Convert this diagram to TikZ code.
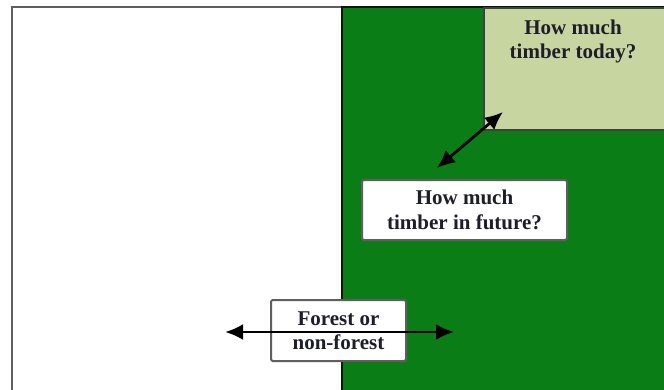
\documentclass[tikz,border=0pt]{standalone}
\usepackage{fontspec}
\setmainfont{Liberation Serif}
\usetikzlibrary{arrows.meta}
\definecolor{forestgreen}{RGB}{10,125,22}
\definecolor{lightgreen}{RGB}{199,214,160}
\definecolor{framegray}{RGB}{95,95,95}
\definecolor{inkdark}{RGB}{30,30,42}
\tikzset{
  qtext/.style={font=\fontsize{21}{24.5}\selectfont\bfseries, text=inkdark, align=center},
  qbox/.style={draw=framegray, line width=2pt, fill=white, rounded corners=1.5pt, qtext, inner sep=0pt},
  twoway/.style={line width=2.8pt, draw=black, {Latex[length=18pt,width=16pt]}-{Latex[length=18pt,width=16pt]}}
}
\begin{document}
\begin{tikzpicture}[x=1pt,y=-1pt]
\useasboundingbox (0,0) rectangle (664,389);
\begin{scope}
\clip (0,0) rectangle (664,389);
% outer frame
\draw[framegray, line width=2.4pt, fill=white] (12,7) rectangle (680,400);
% forest area
\draw[draw=black!80!forestgreen, line width=2pt, fill=forestgreen] (342,7) rectangle (680,400);
% timber today box
\node[draw=black!75, line width=2pt, fill=lightgreen, minimum width=200pt, minimum height=122pt, anchor=north west, inner sep=0pt] (today) at (483,7) {};
\node[qtext, anchor=north] (todaytext) at (573,16) {How much\\timber today?};
\end{scope}
% timber in future box
\node[qbox, minimum width=205pt, minimum height=60pt] (future) at (464.5,210) {How much\\timber in future?};
% forest or non-forest box
\node[qbox, minimum width=135pt, minimum height=61pt] (forest) at (338.5,330.5) {Forest or\\non-forest};
% arrows
\coordinate (dfrom) at (437,168);
\coordinate (dto) at (503,112);
\draw[twoway] (dfrom) -- (dto);
\coordinate (hleft) at (225,332);
\coordinate (hright) at (454,332);
\draw[twoway] (hleft) -- (hright);
\end{tikzpicture}
\end{document}
